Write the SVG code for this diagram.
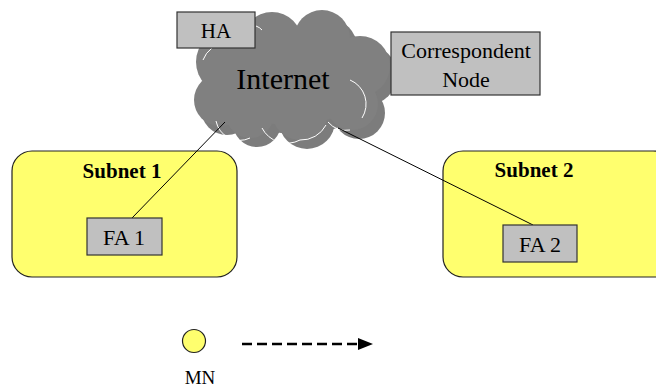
<svg xmlns="http://www.w3.org/2000/svg" width="656" height="387" viewBox="0 0 656 387">
<style>
.t{font-family:"Liberation Serif","Times New Roman",serif;fill:#000;text-anchor:middle}
.box{fill:#c0c0c0;stroke:#333;stroke-width:1.2}
.sub{fill:#ffff6e;stroke:#222;stroke-width:1.2}
.hl{fill:none;stroke:#fff;stroke-width:1}
.conn{stroke:#000;stroke-width:1;fill:none}
</style>
<defs>
<g id="cloudshape">
<circle cx="228" cy="62" r="32"/>
<circle cx="220" cy="100" r="26"/>
<circle cx="272" cy="42" r="30"/>
<circle cx="322" cy="38" r="28"/>
<circle cx="360" cy="66" r="30"/>
<circle cx="352" cy="104" r="26"/>
<circle cx="300" cy="112" r="28"/>
<circle cx="250" cy="114" r="24"/>
<ellipse cx="290" cy="80" rx="80" ry="45"/>
</g>
<marker id="ah" markerWidth="16" markerHeight="12" refX="9" refY="6" orient="auto" markerUnits="userSpaceOnUse">
<path d="M0,0 L15,6 L0,12 Z" fill="#000"/>
</marker>
</defs>
<g id="internet">
<use href="#cloudshape" transform="translate(7,9)" fill="#7c7c7c"/>
<use href="#cloudshape" fill="#808080"/>
<path class="hl" d="M203,60 A26,26 0 0 1 212,48"/>
<path class="hl" d="M256,26 A14,14 0 0 1 262,30"/>
<path class="hl" d="M216,121 A24,24 0 0 0 250,138"/>
<path class="hl" d="M262,128 A28,28 0 0 0 300,140 A28,28 0 0 0 326,125"/>
<path class="hl" d="M328,122 A24,24 0 0 0 350,130"/>
<path class="hl" d="M350,80 A26,26 0 0 1 362,118"/>
<path class="hl" d="M367,24 A10,10 0 0 1 372,36"/>
<text class="t" x="283" y="89" font-size="30">Internet</text>
</g>
<g id="ha">
<rect class="box" x="177" y="12" width="78" height="36"/>
<text class="t" x="216" y="38" font-size="21">HA</text>
</g>
<g id="cn">
<rect class="box" x="391" y="32" width="149" height="63"/>
<text class="t" x="466" y="58" font-size="22">Correspondent</text>
<text class="t" x="466" y="87" font-size="22">Node</text>
</g>
<g id="subnet1">
<rect class="sub" x="12" y="151" width="225" height="126" rx="20" ry="20"/>
<text class="t" x="122" y="178" font-size="21" font-weight="bold">Subnet 1</text>
</g>
<g id="subnet2">
<rect class="sub" x="443" y="151" width="230" height="126" rx="20" ry="20"/>
<text class="t" x="534" y="177" font-size="21" font-weight="bold">Subnet 2</text>
</g>
<g id="connectors">
<line class="conn" x1="132" y1="218" x2="225" y2="122"/>
<line class="conn" x1="338" y1="128" x2="533" y2="225"/>
<line x1="242" y1="344" x2="367" y2="344" stroke="#000" stroke-width="2.5" stroke-dasharray="10,5" marker-end="url(#ah)"/>
</g>
<g id="fa1">
<rect class="box" x="87" y="218" width="75" height="37"/>
<text class="t" x="124" y="245" font-size="22">FA 1</text>
</g>
<g id="fa2">
<rect class="box" x="503" y="225" width="74" height="37"/>
<text class="t" x="540" y="252" font-size="22">FA 2</text>
</g>
<g id="mn">
<circle cx="194" cy="341" r="11.5" fill="#ffff6e" stroke="#222" stroke-width="1.2"/>
<text class="t" x="200" y="384" font-size="19">MN</text>
</g>
</svg>
